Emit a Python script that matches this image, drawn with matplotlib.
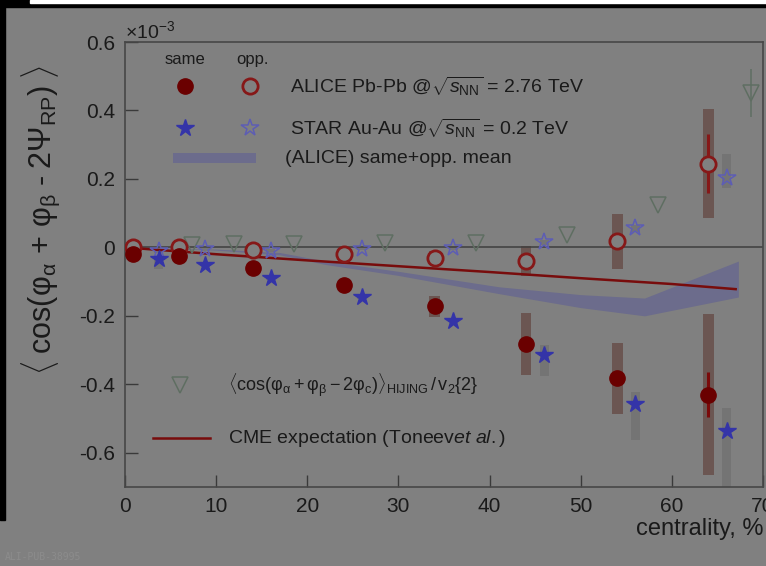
import numpy as np
import matplotlib.pyplot as plt
from matplotlib.patches import Rectangle

plt.rcParams["font.family"] = ["Liberation Sans", "DejaVu Sans"]
plt.rcParams["mathtext.fontset"] = "custom"
plt.rcParams["mathtext.rm"] = "Liberation Sans"
plt.rcParams["mathtext.it"] = "Liberation Sans:italic"
plt.rcParams["mathtext.bf"] = "Liberation Sans:bold"

# ---- data (units of 1e-3) ----
cent_alice_same = [0.9, 5.9, 14, 24, 34, 44, 54, 64]
alice_same = [-0.018, -0.025, -0.06, -0.11, -0.172, -0.283, -0.383, -0.43]
alice_same_stat = [0.004, 0.004, 0.005, 0.006, 0.01, 0.015, 0.02, 0.065]
alice_same_sys = [0.005, 0.005, 0.008, 0.01, 0.03, 0.09, 0.105, 0.235]

cent_alice_opp = [0.9, 5.9, 14, 24, 34, 44, 54, 64]
alice_opp = [0.0, 0.0, -0.008, -0.018, -0.03, -0.04, 0.018, 0.245]
alice_opp_stat = [0.003, 0.003, 0.004, 0.005, 0.008, 0.012, 0.02, 0.085]
alice_opp_sys = [0.004, 0.004, 0.005, 0.008, 0.02, 0.045, 0.08, 0.16]

cent_star = [3.7, 8.8, 16, 26, 36, 46, 56, 66]
star_same = [-0.033, -0.052, -0.09, -0.144, -0.215, -0.315, -0.458, -0.535]
star_same_sys_lo = [0.03, 0.005, 0.005, 0.008, 0.01, 0.06, 0.105, 0.2]
star_same_sys_hi = [0.0, 0.005, 0.005, 0.008, 0.01, 0.03, 0.035, 0.065]
star_opp = [-0.01, -0.006, -0.01, -0.005, -0.002, 0.015, 0.056, 0.203]
star_opp_sys_lo = [0.005, 0.004, 0.004, 0.004, 0.005, 0.008, 0.01, 0.03]
star_opp_sys_hi = [0.005, 0.004, 0.004, 0.004, 0.005, 0.008, 0.01, 0.07]

cent_hijing = [7.3, 12, 18.5, 28.5, 38.5, 48.5, 58.5, 68.7]
hijing = [0.008, 0.01, 0.01, 0.012, 0.012, 0.035, 0.125, 0.45]
hijing_err = [0.0, 0.0, 0.0, 0.0, 0.0, 0.0, 0.0, 0.07]

cent_band = [0, 10, 17, 22, 30, 41, 50, 57, 67.3]
band_upper = [0.0, -0.005, -0.015, -0.04, -0.07, -0.115, -0.138, -0.148, -0.04]
band_lower = [0.0, -0.008, -0.022, -0.05, -0.082, -0.135, -0.176, -0.2, -0.145]

cent_cme = [0, 10, 20, 30, 40, 50, 60, 67]
cme = [0.0, -0.02, -0.038, -0.055, -0.072, -0.09, -0.107, -0.122]

yticks = [-0.6, -0.4, -0.2, 0, 0.2, 0.4, 0.6]
ytick_labels = ["-0.6", "-0.4", "-0.2", "0", "0.2", "0.4", "0.6"]
xticks = [0, 10, 20, 30, 40, 50, 60, 70]

bg = "#808080"
dark_red = "#6a0000"
open_red = "#861818"
blue = "#3434a8"
light_blue = "#5d5db4"
tri_col = "#5f6e62"
band_col = "#6c6c8c"
alice_sys_col = "#6b5652"
star_sys_col = "#747474"
txt = "#1a1a1a"

fig = plt.figure(figsize=(7.66, 5.66), dpi=100, facecolor=bg)
ax = fig.add_axes([125 / 766, 1 - 487 / 566, 638 / 766, 445 / 566])
ax.set_facecolor(bg)

# band
ax.fill_between(cent_band, band_lower, band_upper, color=band_col, lw=0, zorder=1)

# systematic boxes
ax.bar(cent_alice_same, 2 * np.array(alice_same_sys), width=1.2,
       bottom=np.array(alice_same) - np.array(alice_same_sys), color=alice_sys_col, zorder=2)
ax.bar(cent_alice_opp, 2 * np.array(alice_opp_sys), width=1.2,
       bottom=np.array(alice_opp) - np.array(alice_opp_sys), color=alice_sys_col, zorder=2)
ax.bar(cent_star, np.array(star_same_sys_lo) + np.array(star_same_sys_hi), width=1.0,
       bottom=np.array(star_same) - np.array(star_same_sys_lo), color=star_sys_col, zorder=2)
ax.bar(cent_star, np.array(star_opp_sys_lo) + np.array(star_opp_sys_hi), width=1.0,
       bottom=np.array(star_opp) - np.array(star_opp_sys_lo), color=star_sys_col, zorder=2)

ax.axhline(0, color="#3e3e3e", lw=1.1, zorder=2.5)

# CME expectation
ax.plot(cent_cme, cme, color="#780c0c", lw=1.8, zorder=3)

# HIJING
ax.errorbar(cent_hijing, hijing, yerr=hijing_err, fmt="v", ms=11, mfc="none",
            mec=tri_col, mew=1.1, ecolor=tri_col, elinewidth=1.1, zorder=3)

# STAR
ax.plot(cent_star, star_opp, "*", ms=13, mfc="none", mec=light_blue, mew=1.1, zorder=4)
ax.plot(cent_star, star_same, "*", ms=13, color=blue, zorder=4)

# ALICE
ax.errorbar(cent_alice_opp, alice_opp, yerr=alice_opp_stat, fmt="o", ms=11,
            mfc=bg, mec=open_red, mew=2, ecolor=open_red, elinewidth=2.2, zorder=5)
ax.errorbar(cent_alice_same, alice_same, yerr=alice_same_stat, fmt="o", ms=11,
            color=dark_red, ecolor="#7a0a0a", elinewidth=2.2, zorder=5)

ax.set_xlim(0, 70)
ax.set_ylim(-0.7, 0.6)
ax.set_xticks(xticks)
ax.set_yticks(yticks)
ax.set_yticklabels(ytick_labels)
ax.tick_params(direction="in", length=9, width=1, color="#3a3a3a",
               labelsize=15, labelcolor=txt, pad=7)
for s in ax.spines.values():
    s.set_color("#474747")
    s.set_linewidth(1.2)

ax.set_xlabel("centrality, %", fontsize=17, color=txt, loc="right", labelpad=2)
ax.set_ylabel(r"$\langle\;\rm{cos}(\varphi_\alpha\,+\,\varphi_\beta\;\text{-}\;2\Psi_{\rm RP})\;\rangle$",
              fontsize=22, color=txt)
ax.yaxis.set_label_coords(-0.098, 0.6)
ax.text(0.0, 1.0, r"$\times10^{-3}$", transform=ax.transAxes, fontsize=14,
        color=txt, ha="left", va="bottom")

# legend drawn by hand
T = ax.transAxes
ax.text(0.094, 0.96, "same", transform=T, fontsize=12, ha="center", va="center", color=txt)
ax.text(0.2, 0.96, "opp.", transform=T, fontsize=12, ha="center", va="center", color=txt)
ax.plot([0.094], [0.901], "o", ms=11, color=dark_red, transform=T)
ax.plot([0.196], [0.901], "o", ms=11, mfc=bg, mec=open_red, mew=2, transform=T)
ax.text(0.259, 0.901, r"ALICE Pb-Pb @$\sqrt{s_{\rm NN}}$ = 2.76 TeV", transform=T,
        fontsize=14, va="center", color=txt)
ax.plot([0.094], [0.807], "*", ms=13, color=blue, transform=T)
ax.plot([0.196], [0.807], "*", ms=13, mfc="none", mec=light_blue, mew=1.1, transform=T)
ax.text(0.259, 0.807, r"STAR Au-Au @$\sqrt{s_{\rm NN}}$ = 0.2 TeV", transform=T,
        fontsize=14, va="center", color=txt)
ax.add_patch(Rectangle((0.075, 0.728), 0.13, 0.022, transform=T, color=band_col, lw=0))
ax.text(0.251, 0.739, "(ALICE) same+opp. mean", transform=T, fontsize=14,
        va="center", color=txt)
ax.plot([0.086], [0.229], "v", ms=11, mfc="none", mec=tri_col, mew=1.1, transform=T)
ax.text(0.161, 0.229,
        r"$\langle\rm{cos}(\varphi_\alpha + \varphi_\beta - 2\varphi_c)\rangle_{\rm HIJING}\,/\,\rm{v}_2\{2\}$",
        transform=T, fontsize=13, va="center", color=txt)
ax.plot([0.044, 0.133], [0.110, 0.110], color="#780c0c", lw=1.8, transform=T)
ax.text(0.161, 0.110, r"CME expectation (Toneev$\it{et\ al.}$)", transform=T,
        fontsize=14, va="center", color=txt)

# frame artefacts of the screenshot
fig.patches.append(Rectangle((0, 1 - 7 / 566), 1, 7 / 566, transform=fig.transFigure,
                             color="black", zorder=10))
fig.patches.append(Rectangle((30 / 766, 1 - 3 / 566), 1, 3 / 566, transform=fig.transFigure,
                             color="white", zorder=11))
fig.patches.append(Rectangle((0, 46 / 566), 5 / 766, 1, transform=fig.transFigure,
                             color="black", zorder=10))
fig.text(5 / 766, 6 / 566, "ALI-PUB-38995", fontsize=7, color="#8c8c8c",
         family="DejaVu Sans Mono")

fig.savefig("out.png", dpi=100, facecolor=bg)
